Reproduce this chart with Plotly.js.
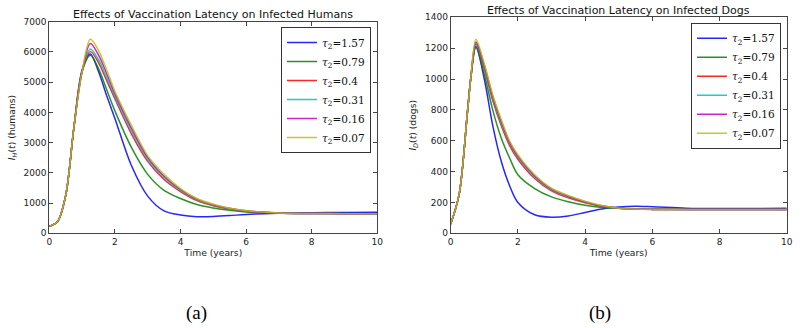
<!DOCTYPE html>
<html>
<head>
<meta charset="utf-8">
<script src="https://cdn.plot.ly/plotly-3.0.1.min.js"></script>
<style>html,body{margin:0;padding:0;background:#fff;}#chart{width:802px;height:328px;}</style>
</head>
<body>
<div id="chart"></div>
<script>
// ---- Data ----
const tauLabels = ["1.57", "0.79", "0.4", "0.31", "0.16", "0.07"];
const seriesColors = ["#0000ff", "#008000", "#ff0000", "#00bfbf", "#bf00bf", "#bfbf00"];

// Infected humans
const tH = [0, 0.25, 0.5, 0.75, 1.0, 1.25, 1.5, 1.75, 2.0, 2.5, 3.0, 3.5, 4.0, 4.5, 5.0, 5.5, 6.0, 7.0, 8.0, 9.0, 10.0];
const humans_157 = [230, 380, 1250, 3500, 5400, 5930, 5350, 4550, 3800, 2250, 1230, 740, 605, 550, 555, 585, 625, 660, 680, 690, 700];
const humans_079 = [230, 380, 1250, 3500, 5350, 5890, 5450, 4750, 4050, 2850, 1950, 1420, 1150, 950, 840, 760, 705, 665, 655, 652, 650];
const humans_040 = [230, 380, 1250, 3500, 5350, 6010, 5650, 5050, 4450, 3300, 2380, 1780, 1380, 1080, 910, 800, 730, 670, 655, 650, 650];
const humans_031 = [230, 380, 1250, 3500, 5350, 6100, 5750, 5150, 4530, 3400, 2450, 1840, 1420, 1110, 930, 815, 740, 672, 655, 650, 650];
const humans_016 = [230, 380, 1250, 3500, 5350, 6280, 5900, 5280, 4620, 3490, 2510, 1890, 1450, 1130, 945, 825, 745, 673, 655, 650, 650];
const humans_007 = [230, 380, 1250, 3500, 5350, 6420, 6050, 5400, 4700, 3580, 2570, 1950, 1480, 1150, 960, 830, 750, 675, 655, 650, 650];

// Infected dogs
const tD = [0, 0.25, 0.5, 0.6, 0.75, 1.0, 1.25, 1.5, 1.75, 2.0, 2.5, 3.0, 3.5, 4.0, 4.5, 5.0, 5.5, 6.0, 7.0, 8.0, 9.0, 10.0];
const dogs_157 = [60, 250, 790, 1010, 1210, 1000, 700, 470, 310, 200, 120, 104, 112, 135, 158, 170, 175, 172, 163, 160, 161, 162];
const dogs_079 = [60, 250, 790, 1010, 1205, 1030, 800, 620, 490, 380, 290, 236, 205, 182, 168, 162, 158, 157, 155, 155, 155, 155];
const dogs_040 = [60, 250, 790, 1010, 1225, 1065, 860, 700, 570, 480, 355, 275, 230, 198, 175, 162, 157, 155, 154, 154, 154, 154];
const dogs_031 = [60, 250, 790, 1010, 1230, 1080, 875, 715, 585, 492, 365, 282, 236, 202, 177, 163, 157, 155, 154, 154, 154, 154];
const dogs_016 = [60, 250, 790, 1010, 1240, 1090, 888, 728, 593, 500, 372, 287, 240, 205, 178, 163, 157, 155, 154, 154, 154, 154];
const dogs_007 = [60, 250, 790, 1010, 1258, 1100, 900, 740, 600, 510, 380, 292, 245, 208, 180, 163, 157, 155, 154, 154, 154, 154];

const humansSeries = [humans_157, humans_079, humans_040, humans_031, humans_016, humans_007];
const dogsSeries = [dogs_157, dogs_079, dogs_040, dogs_031, dogs_016, dogs_007];

const xTicks = [0, 2, 4, 6, 8, 10];
const yTicksH = [0, 1000, 2000, 3000, 4000, 5000, 6000, 7000];
const yTicksD = [0, 200, 400, 600, 800, 1000, 1200, 1400];

// ---- Figure ----
const traces = [];
humansSeries.forEach((ys, i) => {
  traces.push({
    x: tH, y: ys, type: "scatter", mode: "lines",
    line: {color: seriesColors[i], width: 1.5, shape: "spline", smoothing: 0.9},
    opacity: 0.85,
    name: "<i>τ</i><sub>2</sub>=" + tauLabels[i],
    xaxis: "x", yaxis: "y", legend: "legend"
  });
});
dogsSeries.forEach((ys, i) => {
  traces.push({
    x: tD, y: ys, type: "scatter", mode: "lines",
    line: {color: seriesColors[i], width: 1.5, shape: "spline", smoothing: 0.9},
    opacity: 0.85,
    name: "<i>τ</i><sub>2</sub>=" + tauLabels[i],
    xaxis: "x2", yaxis: "y2", legend: "legend2"
  });
});

const W = 802, H = 328;
const px = v => v / W, py = v => 1 - v / H;

const axisCommon = {
  showline: true, linecolor: "#444", linewidth: 1, mirror: "ticks",
  ticks: "inside", ticklen: 4, tickcolor: "#444", tickwidth: 1,
  showgrid: false, zeroline: false,
  tickfont: {family: "DejaVu Sans", size: 9, color: "#222"}
};
const axTitleFont = {family: "DejaVu Sans", size: 9.2, color: "#222"};

const legendCommon = {
  bgcolor: "#fff", bordercolor: "#333", borderwidth: 1,
  font: {family: "DejaVu Serif", size: 10.5, color: "#111"},
  xanchor: "right", yanchor: "top", tracegroupgap: 0, itemwidth: 30
};

const layout = {
  width: W, height: H,
  margin: {l: 0, r: 0, t: 0, b: 0},
  paper_bgcolor: "#fff", plot_bgcolor: "#fff",
  showlegend: true,
  xaxis: Object.assign({}, axisCommon, {
    domain: [px(49.3), px(377.3)], range: [0, 10], tickvals: xTicks, anchor: "y",
    title: {text: "Time (years)", font: axTitleFont, standoff: 3}
  }),
  yaxis: Object.assign({}, axisCommon, {
    domain: [py(233.3), py(21.7)], range: [0, 7000], tickvals: yTicksH, anchor: "x",
    title: {text: "<i>I<sub>H</sub></i>(<i>t</i>) (humans)", font: axTitleFont, standoff: 6}
  }),
  xaxis2: Object.assign({}, axisCommon, {
    domain: [px(450.7), px(786.7)], range: [0, 10], tickvals: xTicks, anchor: "y2",
    title: {text: "Time (years)", font: axTitleFont, standoff: 3}
  }),
  yaxis2: Object.assign({}, axisCommon, {
    domain: [py(233.3), py(17.3)], range: [0, 1400], tickvals: yTicksD, anchor: "x2",
    title: {text: "<i>I<sub>D</sub></i>(<i>t</i>) (dogs)", font: axTitleFont, standoff: 6}
  }),
  legend: Object.assign({}, legendCommon, {x: px(371), y: py(27)}),
  legend2: Object.assign({}, legendCommon, {x: px(781), y: py(22.7)}),
  annotations: [
    {text: "Effects of Vaccination Latency on Infected Humans", xref: "paper", yref: "paper",
     x: px(213), y: py(14.7), xanchor: "center", yanchor: "middle", showarrow: false,
     font: {family: "DejaVu Sans", size: 11, color: "#111"}},
    {text: "Effects of Vaccination Latency on Infected Dogs", xref: "paper", yref: "paper",
     x: px(618.7), y: py(10), xanchor: "center", yanchor: "middle", showarrow: false,
     font: {family: "DejaVu Sans", size: 11, color: "#111"}},
    {text: "(a)", xref: "paper", yref: "paper", x: px(196), y: py(313), xanchor: "center", yanchor: "middle",
     showarrow: false, font: {family: "Liberation Serif", size: 19, color: "#000"}},
    {text: "(b)", xref: "paper", yref: "paper", x: px(600), y: py(313), xanchor: "center", yanchor: "middle",
     showarrow: false, font: {family: "Liberation Serif", size: 19, color: "#000"}}
  ]
};

Plotly.newPlot("chart", traces, layout, {staticPlot: true, displayModeBar: false});
</script>
</body>
</html>
